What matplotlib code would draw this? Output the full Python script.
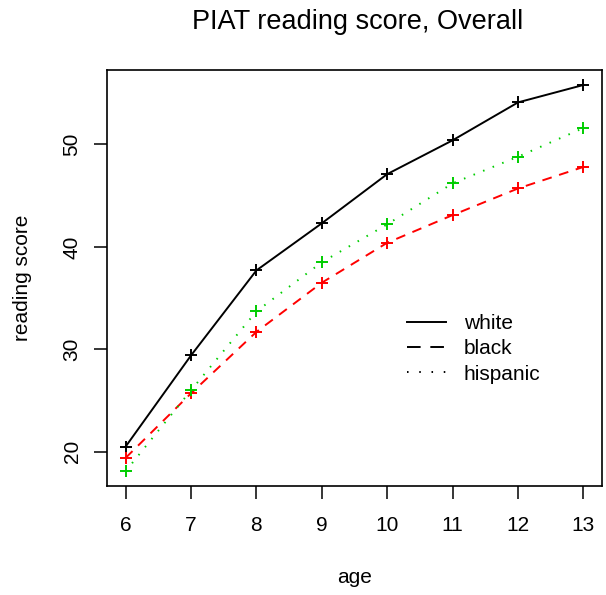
import matplotlib
matplotlib.use("Agg")
import matplotlib.pyplot as plt
from matplotlib.lines import Line2D

plt.rcParams['font.family'] = ['Liberation Sans', 'DejaVu Sans']

ages = [6, 7, 8, 9, 10, 11, 12, 13]
white = [20.5, 29.4, 37.7, 42.3, 47.1, 50.4, 54.1, 55.8]
black = [19.4, 25.7, 31.7, 36.5, 40.4, 43.1, 45.7, 47.8]
hispanic = [18.1, 26.0, 33.7, 38.5, 42.2, 46.2, 48.8, 51.6]

fig = plt.figure(figsize=(6.06, 5.95), dpi=100)
ax = fig.add_axes([0.177, 0.183, 0.816, 0.699])

ax.plot(ages, white, color='black', lw=1.4, marker='+', ms=9, mew=1.4)
ax.plot(ages, black, color='red', lw=1.4, marker='+', ms=9, mew=1.4, dashes=(5, 4))
ax.plot(ages, hispanic, color='#00CD00', lw=1.4, marker='+', ms=9, mew=1.4,
        dashes=(0.8, 4.5))

ax.set_xlim(5.72, 13.28)
ax.set_ylim(16.65, 57.24)
ax.set_xticks(ages)
ax.set_yticks([20, 30, 40, 50])
ax.tick_params(direction='out', length=9.5, width=1.1, labelsize=15, pad=12)
ax.tick_params(axis='y', pad=9)
for lab in ax.get_yticklabels():
    lab.set_rotation(90)
    lab.set_va('center')
for s in ax.spines.values():
    s.set_linewidth(1.2)

ax.set_xlabel('age', fontsize=15)
ax.xaxis.set_label_coords(0.5, -0.219)
ax.xaxis.label.set_va('center')
ax.set_ylabel('reading score', fontsize=15)
ax.yaxis.set_label_coords(-0.172, 0.5)
ax.yaxis.label.set_va('center')
fig.text(0.59, 1 - 29.3 / 595, 'PIAT reading score, Overall', fontsize=19.5,
         ha='center', va='baseline')

# legend with black lines, no box
handles = [Line2D([], [], color='black', lw=1.4),
           Line2D([], [], color='black', lw=1.4, dashes=(7, 5)),
           Line2D([], [], color='black', lw=1.4, dashes=(0.8, 5.5))]
ax.legend(handles, ['white', 'black', 'hispanic'], loc='center left',
          bbox_to_anchor=(407 / 606, (595 - 349) / 595), bbox_transform=fig.transFigure,
          frameon=False, fontsize=15, borderpad=0, borderaxespad=0,
          handlelength=1.87, handletextpad=0.86, labelspacing=0.3)

fig.savefig('out.png', dpi=100)
